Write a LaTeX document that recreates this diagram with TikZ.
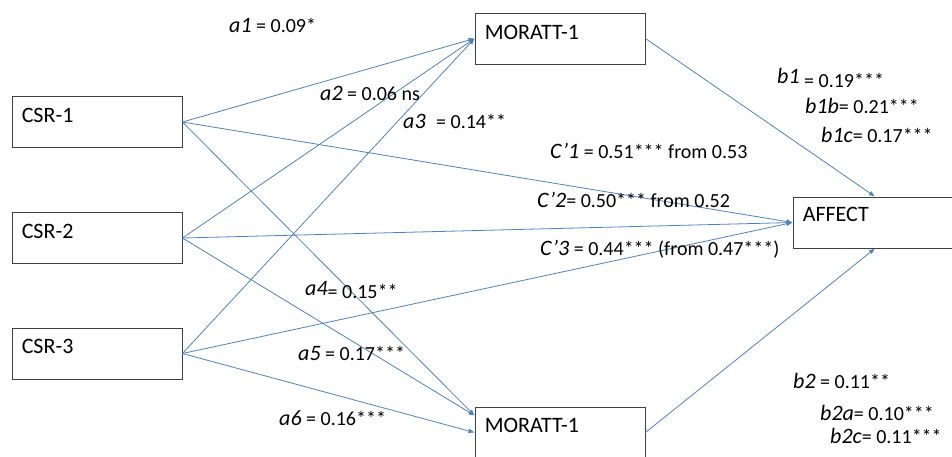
\documentclass[tikz,border=0pt]{standalone}
\usepackage{fontspec}
\setmainfont{Carlito}
\usetikzlibrary{arrows.meta}
\definecolor{lnblue}{HTML}{4F81BD}
\definecolor{bxgray}{HTML}{404040}
\newcommand\pl[2]{{\fontsize{22}{26}\selectfont\itshape #1}{\fontsize{20}{24}\selectfont #2}}
\begin{document}
\begin{tikzpicture}[x=1pt,y=-1pt,
 box/.style={draw=bxgray, line width=0.9pt, minimum width=170pt, minimum height=51pt, inner sep=0pt},
 boxtxt/.style={anchor=base west, inner sep=0pt, font=\fontsize{22}{26}\selectfont},
 conn/.style={draw=lnblue, line width=0.8pt, -{Latex[length=6pt,width=5pt]}},
 lab/.style={anchor=base west, inner sep=0pt}]
\useasboundingbox (0,0) rectangle (952,456);
\clip (0,0) rectangle (952,456);
\node[box, label={[boxtxt, xshift=10pt, yshift=-26pt]north west:CSR-1}] (c1) at (97,122) {};
\node[box, label={[boxtxt, xshift=10pt, yshift=-26pt]north west:CSR-2}] (c2) at (97,238) {};
\node[box, label={[boxtxt, xshift=10pt, yshift=-26pt]north west:CSR-3}] (c3) at (97,353.5) {};
\node[box, label={[boxtxt, xshift=10pt, yshift=-27pt]north west:MORATT-1}] (m1) at (560,38.5) {};
\node[box, label={[boxtxt, xshift=10pt, yshift=-26pt]north west:MORATT-1}] (m2) at (560,432.5) {};
\node[box, minimum width=164pt, label={[boxtxt, xshift=10pt, yshift=-25pt]north west:AFFECT}] (af) at (875,222.5) {};
\coordinate (m2in) at ([yshift=17pt]m2.west);
\foreach \s in {c1,c2,c3}{
  \draw[conn] (\s.east) -- (m1.west);
  \draw[conn] (\s.east) -- (af.west);
}
\draw[conn] (c1.east) -- (m2in);
\draw[conn] (c2.east) -- (m2in);
\draw[conn] (c3.east) -- (m2.west);
\draw[conn] (m1.east) -- (af.north);
\draw[conn] (m2.east) -- (af.south);
\node[lab] (la1) at (229,32) {\pl{a1}{ = 0.09*}};
\node[lab] (la2) at (320,100) {\pl{a2}{ = 0.06 ns}};
\node[lab] (la3) at (403,128) {\pl{a3}{\hspace{6pt} = 0.14**}};
\node[lab] (lc1) at (550,158) {\pl{C’1}{ = 0.51*** from 0.53}};
\node[lab] (lc2) at (537,207) {\pl{C’2}{= 0.50*** from 0.52}};
\node[lab] (lc3) at (540,255) {\pl{C’3}{ = 0.44*** (from 0.47***)}};
\node[lab] (lb1) at (777,83) {\pl{b1}{\raisebox{-4pt}{ = 0.19***}}};
\node[lab] (lb1b) at (805,113) {\pl{b1b}{= 0.21***}};
\node[lab] (lb1c) at (821,142) {\pl{b1c}{= 0.17***}};
\node[lab] (la4) at (305,295) {\pl{a4}{\raisebox{-3pt}{= 0.15**}}};
\node[lab] (la5) at (298,360) {\pl{a5}{ = 0.17***}};
\node[lab] (la6) at (279,425) {\pl{a6}{ = 0.16***}};
\node[lab] (lb2) at (793,388) {\pl{b2}{ = 0.11**}};
\node[lab] (lb2a) at (820,420) {\pl{b2a}{= 0.10***}};
\node[lab] (lb2c) at (830,443) {\pl{b2c}{= 0.11***}};
\end{tikzpicture}
\end{document}
